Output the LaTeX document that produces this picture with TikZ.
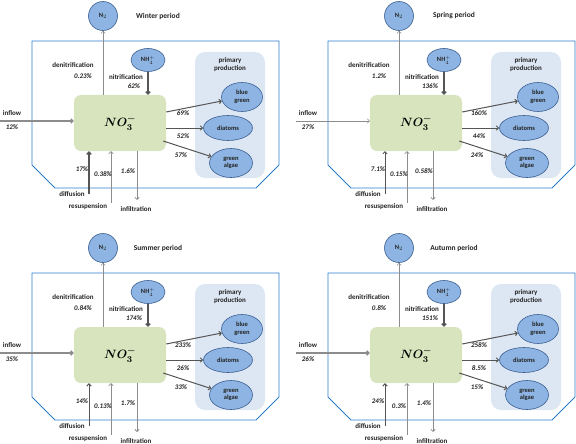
\documentclass[tikz,border=0pt]{standalone}
\usepackage{fontspec}
\usepackage{amsmath}
\usepackage{xcolor}
\usetikzlibrary{positioning,arrows.meta,shapes.geometric}
\setmainfont{Carlito}
\definecolor{lakeblue}{RGB}{45,125,205}
\definecolor{boxgreen}{RGB}{216,228,190}
\definecolor{ppblue}{RGB}{221,231,244}
\definecolor{cellblue}{RGB}{141,180,226}
\definecolor{celldark}{RGB}{60,95,145}
\definecolor{flowdark}{RGB}{85,85,85}
\definecolor{flowgray}{RGB}{140,140,140}
\definecolor{txtdark}{RGB}{35,35,35}

\tikzset{
    lbl/.style={font=\fontsize{7}{8}\selectfont\bfseries, text=txtdark, inner sep=0pt, align=center},
    pct/.style={lbl, font=\fontsize{7}{8}\selectfont\bfseries\itshape},
    lake/.style={draw=lakeblue, line width=0.8pt},
    nitrate/.style={rectangle, rounded corners=7pt, fill=boxgreen, minimum width=92pt, minimum height=56pt, text=black},
    ppbox/.style={rectangle, rounded corners=10pt, fill=ppblue, minimum width=70pt, minimum height=126pt},
    pool/.style={draw=celldark, fill=cellblue, line width=0.6pt, inner sep=0pt, lbl, font=\fontsize{6.5}{7.5}\selectfont\bfseries},
    cell/.style={ellipse, pool},
    flow/.style={-{Straight Barb[length=2.2pt,width=4.4pt]}, draw=flowgray, line width=0.6pt},
    flowthick/.style={flow, draw=flowdark, line width=1.3pt},
    flowmid/.style={flow, draw=flowdark, line width=1pt}
}

\begin{document}
\begin{tikzpicture}[x=1pt, y=-1pt]
\useasboundingbox (0,0) rectangle (576,444);

\foreach \s/\dx/\dy/\season/\dn/\nt/\inf/\iw/\dif/\dw/\res/\ifl/\bg/\di/\ga in {
    win/0/0/Winter/0.23/62/12/1.1/17/1.3/0.38/1.6/69/52/57,
    spr/296/0/Spring/1.2/136/27/0.5/7.1/0.8/0.15/0.58/160/44/24,
    sum/0/232/Summer/0.84/174/35/1.4/14/1/0.13/1.7/233/26/33,
    aut/296/232/Autumn/0.8/151/26/1.4/24/1/0.3/1.4/258/8.5/15}{
\begin{scope}[shift={(\dx,\dy)}]
    % lake outline
    \draw[lake] (32,41) -- (32,165) -- (55,188) -- (256,188) -- (279,165) -- (279,41) -- cycle;

    % primary production
    \node[ppbox] (\s-pp) at (230,115) {};
    \node[lbl] (\s-pptxt) at (230,65) {primary\\production};
    \node[cell, minimum width=41pt, minimum height=29pt] (\s-bg) at (242,97) {blue\\green};
    \node[cell, minimum width=49pt, minimum height=25pt] (\s-di) at (228,128) {diatoms};
    \node[cell, minimum width=43pt, minimum height=29pt] (\s-ga) at (231,163) {green\\algae};

    % pools
    \node[nitrate] (\s-no3) at (120,123) {\fontsize{13}{15}\selectfont$\boldsymbol{NO_3^-}$};
    \node[pool, circle, minimum size=29pt, font=\fontsize{6.5}{7}\selectfont\bfseries] (\s-n2) at (103,16) {N$_2$};
    \node[cell, minimum width=34pt, minimum height=23pt, font=\fontsize{6.5}{7}\selectfont\bfseries] (\s-nh4) at (148,60) {NH$_4^+$};
    \node[lbl, font=\fontsize{7.5}{8}\selectfont\bfseries] (\s-title) at (158,16) {\season{} period};

    % end points
    \coordinate (\s-in) at (0,121);
    \coordinate (\s-dif) at (89,194);
    \coordinate (\s-res) at (111,203);
    \coordinate (\s-ifl) at (137,200);

    % fluxes
    \draw[flow, line width=\iw pt] (\s-in) -- (\s-in -| \s-no3.west);
    \draw[flow, line width=0.5pt] (\s-n2 |- \s-no3.north) -- (\s-n2);
    \draw[flowthick] (\s-nh4) -- (\s-nh4 |- \s-no3.north);
    \draw[flowmid] ([yshift=11pt]\s-no3.east) -- (\s-bg);
    \draw[flowmid] ([yshift=-5pt]\s-no3.east) -- (\s-di);
    \draw[flowmid] ([xshift=-3pt,yshift=-18pt]\s-no3.east) -- (\s-ga);
    \draw[flowthick, line width=\dw pt] (\s-dif) -- (\s-dif |- \s-no3.south);
    \draw[flow] (\s-res) -- (\s-res |- \s-no3.south);
    \draw[flow, line width=0.8pt] (\s-ifl |- \s-no3.south) -- (\s-ifl);

    % labels
    \node[lbl] (\s-inlbl) at (12,113) {inflow};
    \node[pct] (\s-inpct) at (12,127) {\inf\%};
    \node[lbl] (\s-dnlbl) at (73,65) {denitrification};
    \node[pct] (\s-dnpct) at (83,76) {\dn\%};
    \node[lbl] (\s-ntlbl) at (126,77) {nitrification};
    \node[pct] (\s-ntpct) at (134,86) {\nt\%};
    \node[pct] (\s-bgpct) at (183,113) {\bg\%};
    \node[pct] (\s-dipct) at (183,136) {\di\%};
    \node[pct] (\s-gapct) at (181,155) {\ga\%};
    \node[lbl] (\s-diflbl) at (72,194) {diffusion};
    \node[pct] (\s-difpct) at (82,169) {\dif\%};
    \node[lbl] (\s-reslbl) at (88,207) {resuspension};
    \node[pct] (\s-respct) at (103,174) {\res\%};
    \node[lbl] (\s-ifllbl) at (136,209) {infiltration};
    \node[pct] (\s-iflpct) at (128,171) {\ifl\%};
\end{scope}
}
\end{tikzpicture}
\end{document}
